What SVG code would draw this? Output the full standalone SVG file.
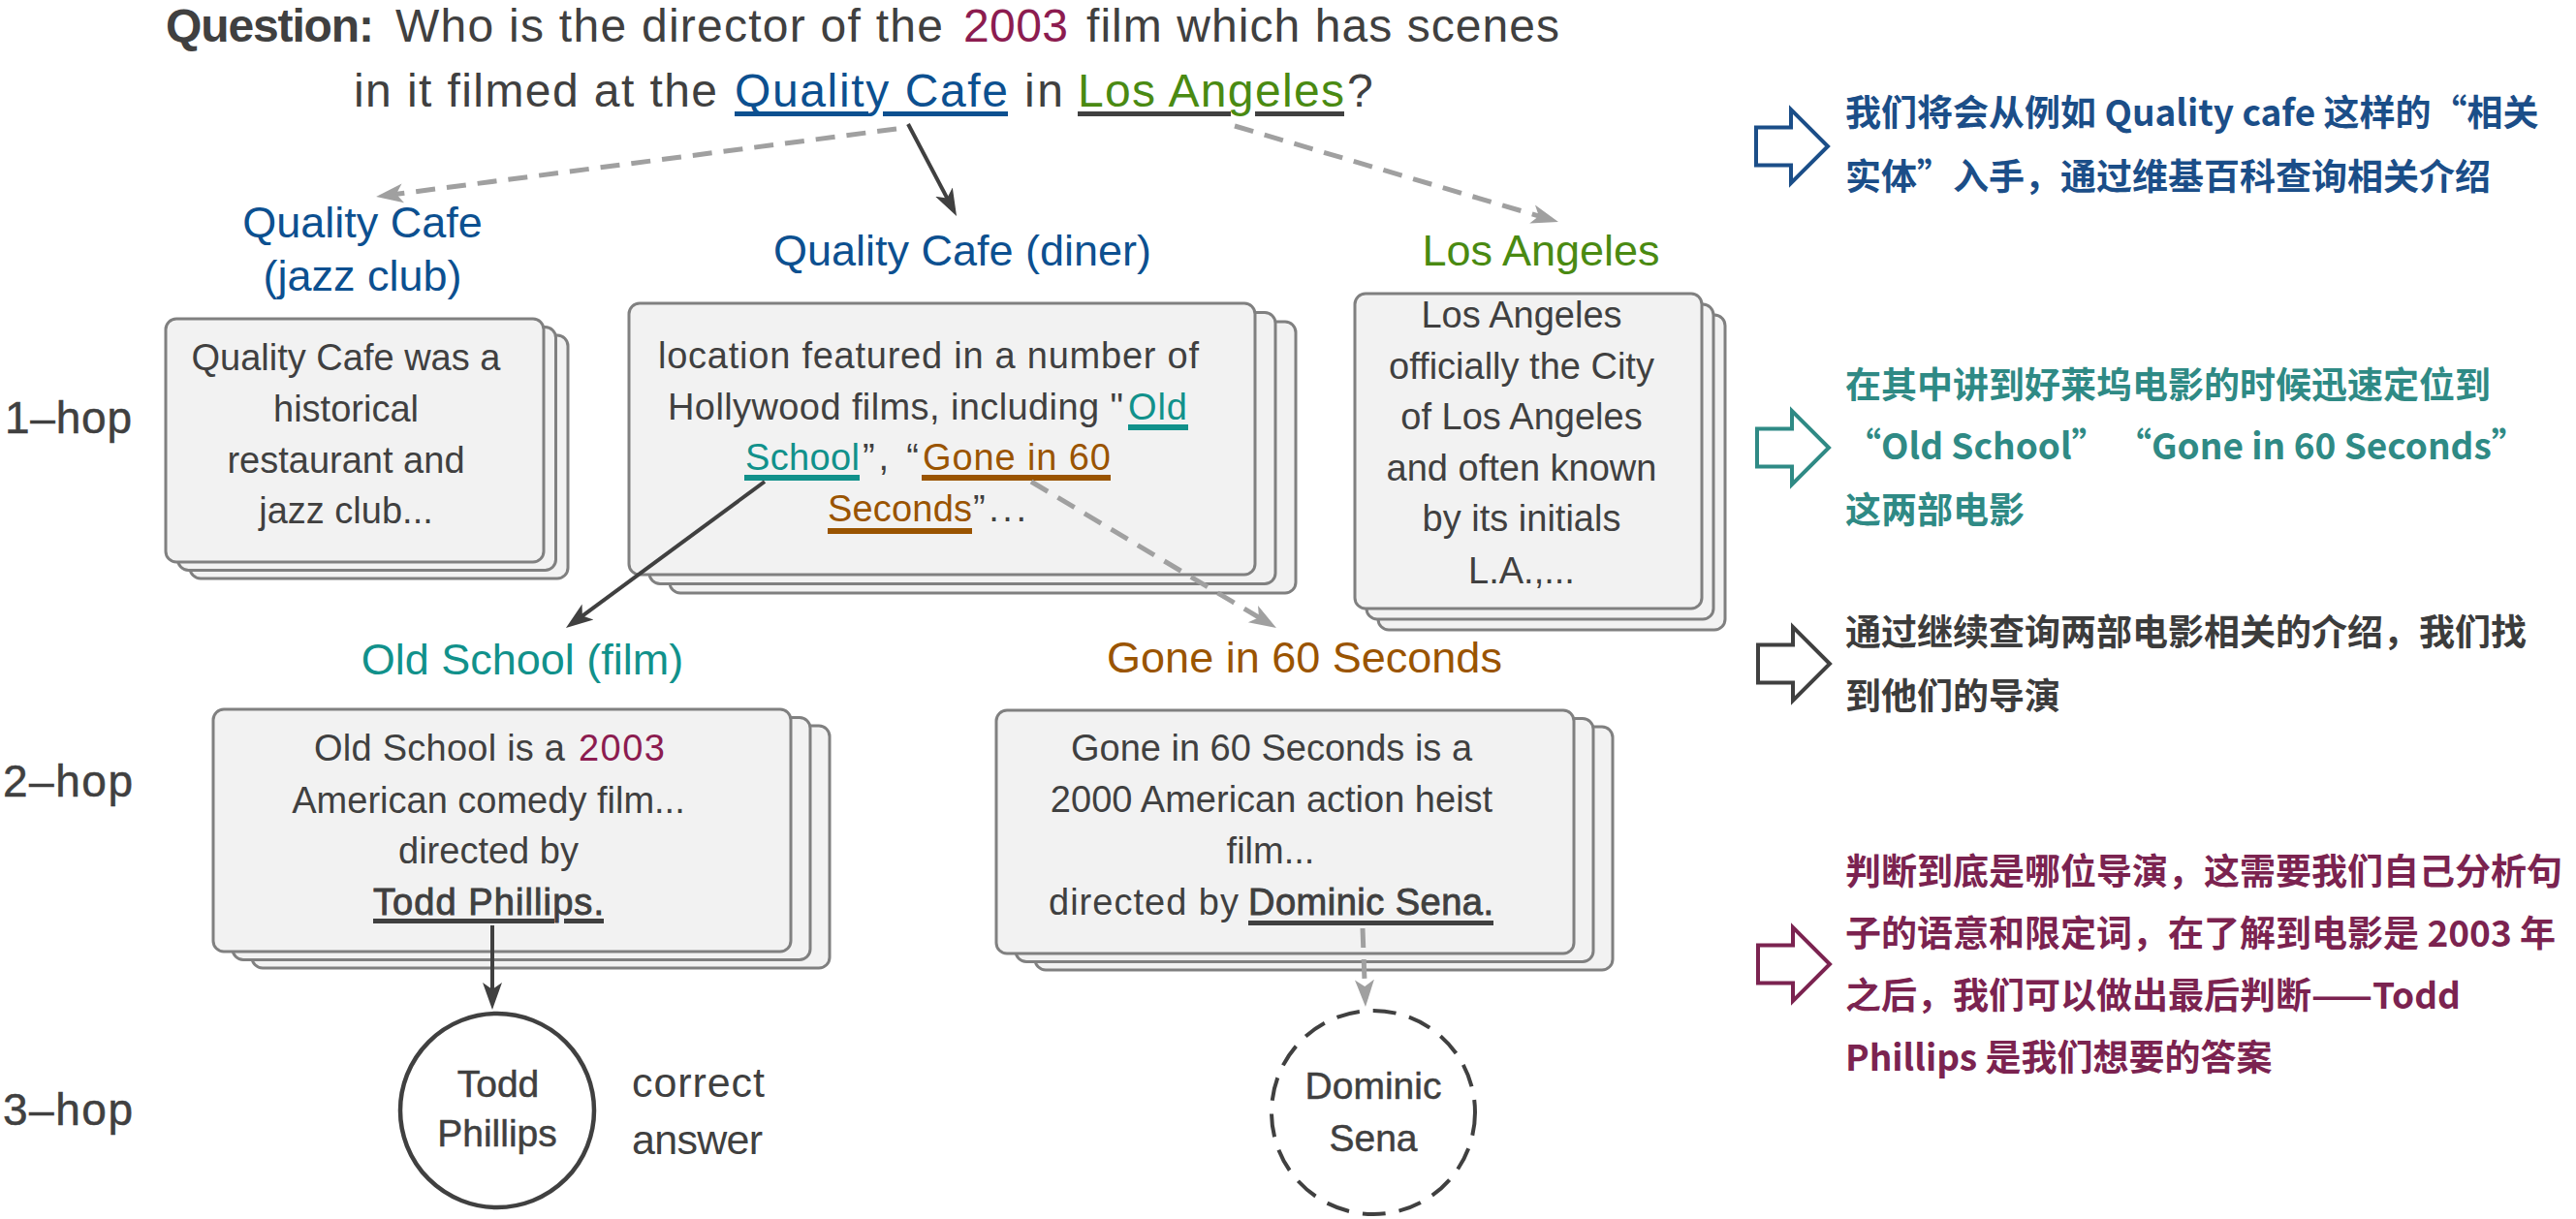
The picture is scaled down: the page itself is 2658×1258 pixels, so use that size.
<svg xmlns="http://www.w3.org/2000/svg" width="2658" height="1258" viewBox="0 0 2658 1258">
<defs>
<style>
.t{font-family:"Liberation Sans",Arial,sans-serif;fill:#404040}
.q{font-size:48px}
.lbl{font-size:45px;text-anchor:middle}
.bx{font-size:38px}
.m{text-anchor:middle}
.med{stroke:#404040;stroke-width:0.9}
.semi{stroke:#404040;stroke-width:0.5}
.box{fill:#f2f2f2;stroke:#808080;stroke-width:3}
.cn{font-family:"Noto Sans CJK SC","Noto Sans CJK JP",sans-serif;font-weight:700;font-size:37px}
.solid{fill:none;stroke:#404040;stroke-width:4}
.dash{fill:none;stroke:#a0a0a0;stroke-width:5;stroke-dasharray:20 12}
.hollow{fill:#ffffff;stroke-width:4;stroke-linejoin:miter}
.blue{fill:#0c5090}
.green{fill:#4a8a12}
.teal{fill:#11918b}
.brown{fill:#9a5400}
.maroon{fill:#8c1c50}
</style>
<marker id="ad" markerUnits="userSpaceOnUse" markerWidth="32" markerHeight="26" viewBox="0 0 32 26" refX="20" refY="13" orient="auto"><path d="M0,3 L28,13 L0,23 L7,13 Z" fill="#404040"/></marker>
<marker id="ag" markerUnits="userSpaceOnUse" markerWidth="32" markerHeight="26" viewBox="0 0 32 26" refX="20" refY="13" orient="auto"><path d="M0,3 L28,13 L0,23 L7,13 Z" fill="#a0a0a0"/></marker>
<path id="harrow" d="M0,-19.5 H36 V-38 L74,0 L36,38 V19.5 H0 Z"/>
</defs>
<rect width="2658" height="1258" fill="#ffffff"/>

<g id="question">
<text class="t q" x="171" y="43" font-weight="700" textLength="215">Question:</text>
<text class="t q" x="408" y="43" textLength="565">Who is the director of the</text>
<text class="t q maroon" x="994" y="43" textLength="108">2003</text>
<text class="t q" x="1121" y="43" textLength="488">film which has scenes</text>
<text class="t q" x="365" y="110" textLength="375">in it filmed at the</text>
<text class="t q blue" x="758" y="110" textLength="282">Quality Cafe</text>
<text class="t q" x="1057" y="110" textLength="40">in</text>
<text class="t q green" x="1112" y="110" textLength="275">Los Angeles</text>
<text class="t q" x="1390" y="110">?</text>
<rect x="758" y="115" width="138" height="5" fill="#0c5090"/>
<rect x="911" y="115" width="129" height="5" fill="#0c5090"/>
<rect x="1112" y="115" width="158" height="5" fill="#404040"/>
<rect x="1295" y="115" width="92" height="5" fill="#404040"/>
</g>

<g id="hop-labels">
<text class="t semi" x="5" y="447" font-size="46" textLength="131">1–hop</text>
<text class="t semi" x="3" y="822" font-size="46" textLength="134">2–hop</text>
<text class="t semi" x="3" y="1161" font-size="46" textLength="134">3–hop</text>
</g>

<g id="node-jazz">
<text class="t lbl blue" x="374" y="245">Quality Cafe</text>
<text class="t lbl blue" x="374" y="300">(jazz club)</text>
<rect class="box" x="196" y="346" width="390" height="251" rx="11"/>
<rect class="box" x="183.5" y="337.5" width="390" height="251" rx="11"/>
<rect class="box" x="171" y="329" width="390" height="251" rx="11"/>
<text class="t bx m" x="357" y="382">Quality Cafe was a</text>
<text class="t bx m" x="357" y="435">historical</text>
<text class="t bx m" x="357" y="488">restaurant and</text>
<text class="t bx m" x="357" y="540">jazz club...</text>
</g>

<g id="node-diner">
<text class="t lbl blue" x="993" y="274">Quality Cafe (diner)</text>
<rect class="box" x="691" y="332" width="646" height="280" rx="11"/>
<rect class="box" x="670" y="322.5" width="646" height="280" rx="11"/>
<rect class="box" x="649" y="313" width="646" height="280" rx="11"/>
<text class="t bx m" x="958" y="380" textLength="558">location featured in a number of</text>
<text class="t bx" x="689" y="433" textLength="470">Hollywood films, including "</text>
<text class="t bx teal" x="1164" y="433" textLength="61">Old</text>
<text class="t bx teal" x="769" y="485" textLength="118">School</text>
<text class="t bx" x="890" y="485" textLength="58">”, “</text>
<text class="t bx brown" x="952" y="485" textLength="194">Gone in 60</text>
<text class="t bx brown" x="854" y="538" textLength="149">Seconds</text>
<text class="t bx" x="1004" y="538" textLength="55">”...</text>
<rect x="1164" y="438" width="62" height="6" fill="#11918b"/>
<rect x="768" y="490" width="119" height="6" fill="#11918b"/>
<rect x="951" y="490" width="195" height="6" fill="#9a5400"/>
<rect x="854" y="545" width="149" height="6" fill="#9a5400"/>
</g>

<g id="node-la">
<text class="t lbl green" x="1590" y="274">Los Angeles</text>
<rect class="box" x="1422" y="325" width="358" height="325" rx="11"/>
<rect class="box" x="1410" y="314" width="358" height="325" rx="11"/>
<rect class="box" x="1398" y="303" width="358" height="325" rx="11"/>
<text class="t bx m" x="1570" y="338">Los Angeles</text>
<text class="t bx m" x="1570" y="391">officially the City</text>
<text class="t bx m" x="1570" y="443">of Los Angeles</text>
<text class="t bx m" x="1570" y="496">and often known</text>
<text class="t bx m" x="1570" y="548">by its initials</text>
<text class="t bx m" x="1570" y="602">L.A.,...</text>
</g>

<g id="node-oldschool">
<text class="t lbl teal" x="539" y="696">Old School (film)</text>
<rect class="box" x="260" y="749" width="596" height="250" rx="11"/>
<rect class="box" x="240" y="740.5" width="596" height="250" rx="11"/>
<rect class="box" x="220" y="732" width="596" height="250" rx="11"/>
<text class="t bx" x="324" y="785" textLength="259">Old School is a</text>
<text class="t bx maroon" x="597" y="785" textLength="89">2003</text>
<text class="t bx m" x="504" y="839">American comedy film...</text>
<text class="t bx m" x="504" y="891">directed by</text>
<text class="t bx med" x="385" y="944" textLength="238">Todd Phillips.</text>
<rect x="385" y="948" width="187" height="5" fill="#404040"/>
<rect x="582" y="948" width="41" height="5" fill="#404040"/>
</g>

<g id="node-gone">
<text class="t lbl brown" x="1346" y="694">Gone in 60 Seconds</text>
<rect class="box" x="1068" y="750" width="596" height="251" rx="11"/>
<rect class="box" x="1048" y="741.5" width="596" height="251" rx="11"/>
<rect class="box" x="1028" y="733" width="596" height="251" rx="11"/>
<text class="t bx m" x="1312" y="785">Gone in 60 Seconds is a</text>
<text class="t bx m" x="1312" y="838">2000 American action heist</text>
<text class="t bx m" x="1311" y="891">film...</text>
<text class="t bx" x="1082" y="944" textLength="196">directed by</text>
<text class="t bx med" x="1288" y="944" textLength="253">Dominic Sena.</text>
<rect x="1288" y="950" width="253" height="5" fill="#404040"/>
</g>

<g id="node-todd">
<circle cx="513" cy="1146" r="100" fill="#ffffff" stroke="#404040" stroke-width="4.5"/>
<text class="t m semi" x="514" y="1132" font-size="39">Todd</text>
<text class="t m semi" x="513" y="1183" font-size="39">Phillips</text>
<text class="t" x="652" y="1132" font-size="43" textLength="137">correct</text>
<text class="t" x="652" y="1191" font-size="43" textLength="135">answer</text>
</g>

<g id="node-dominic">
<circle cx="1417" cy="1148" r="105" fill="#ffffff" stroke="#404040" stroke-width="4" stroke-dasharray="24 14"/>
<text class="t m semi" x="1417" y="1134" font-size="39">Dominic</text>
<text class="t m semi" x="1417" y="1188" font-size="39">Sena</text>
</g>

<g id="connectors">
<path class="dash" d="M925,133 L396,202" marker-end="url(#ag)"/>
<path class="solid" d="M937,128 L983.3,215.9" marker-end="url(#ad)"/>
<path class="dash" d="M1274,130 L1600.3,226.7" marker-end="url(#ag)"/>
<path class="solid" d="M789,497 L590.4,643.3" marker-end="url(#ad)"/>
<path class="dash" d="M1064,497 L1310.1,643.9" marker-end="url(#ag)"/>
<path class="solid" d="M508,955 L508,1034" marker-end="url(#ad)"/>
<path class="dash" d="M1406,958 L1408.7,1031" marker-end="url(#ag)"/>
</g>

<g id="note-1">
<use href="#harrow" class="hollow" stroke="#1b4e88" transform="translate(1812,151)"/>
<text class="cn" x="1904" y="130" fill="#1b4e88">我们将会从例如 Quality cafe 这样的“相关</text>
<text class="cn" x="1904" y="196" fill="#1b4e88">实体”入手，通过维基百科查询相关介绍</text>
</g>
<g id="note-2">
<use href="#harrow" class="hollow" stroke="#2f8a85" transform="translate(1813,462)"/>
<text class="cn" x="1904" y="411" fill="#2f8a85">在其中讲到好莱坞电影的时候迅速定位到</text>
<text class="cn" x="1904" y="474" fill="#2f8a85">“Old School” “Gone in 60 Seconds”</text>
<text class="cn" x="1904" y="540" fill="#2f8a85">这两部电影</text>
</g>
<g id="note-3">
<use href="#harrow" class="hollow" stroke="#404040" transform="translate(1814,685)"/>
<text class="cn" x="1904" y="666" fill="#3c3c3c">通过继续查询两部电影相关的介绍，我们找</text>
<text class="cn" x="1904" y="732" fill="#3c3c3c">到他们的导演</text>
</g>
<g id="note-4">
<use href="#harrow" class="hollow" stroke="#7b2350" transform="translate(1814,995)"/>
<text class="cn" x="1904" y="913" fill="#7b2350">判断到底是哪位导演，这需要我们自己分析句</text>
<text class="cn" x="1904" y="977" fill="#7b2350">子的语意和限定词，在了解到电影是 2003 年</text>
<text class="cn" x="1904" y="1041" fill="#7b2350">之后，我们可以做出最后判断——Todd</text>
<text class="cn" x="1904" y="1105" fill="#7b2350">Phillips 是我们想要的答案</text>
</g>
</svg>
